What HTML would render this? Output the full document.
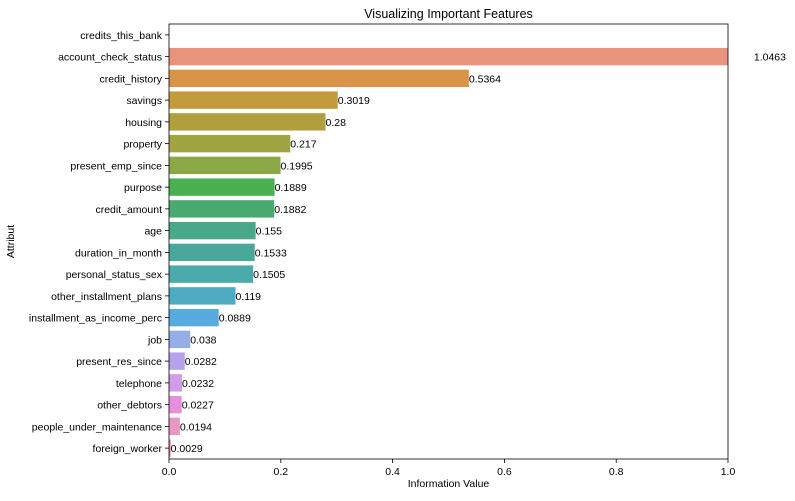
<!DOCTYPE html>
<html><head><meta charset="utf-8"><style>
body{margin:0;background:#fff;font-family:"Liberation Sans","DejaVu Sans",sans-serif;}
svg text{font-family:"Liberation Sans","DejaVu Sans",sans-serif;fill:#000;}
</style></head><body>
<svg id="c" width="795" height="496"></svg>
<script>
const categories=["credits_this_bank","account_check_status","credit_history","savings","housing","property","present_emp_since","purpose","credit_amount","age","duration_in_month","personal_status_sex","other_installment_plans","installment_as_income_perc","job","present_res_since","telephone","other_debtors","people_under_maintenance","foreign_worker"];
const values=[null,1.0463,0.5364,0.3019,0.28,0.217,0.1995,0.1889,0.1882,0.155,0.1533,0.1505,0.119,0.0889,0.038,0.0282,0.0232,0.0227,0.0194,0.0029];
const colors=["#f77189","#e8937c","#d8954a","#c49a3e","#b09f3f","#a1a442","#8aa846","#4aaf50","#49aa6f","#4aa88a","#4aa89a","#4baaac","#4eabc1","#57abde","#96aee8","#b5a2ea","#d09de6","#e58fde","#e896c4","#f1759a"];
const xTicks=[0,0.2,0.4,0.6,0.8,1.0];
const xTickLabels=["0.0","0.2","0.4","0.6","0.8","1.0"];
const NS="http://www.w3.org/2000/svg";
const svg=document.getElementById('c');
const L=169,R=728,T=24,B=459;
const xs=v=>L+(v/1.0)*(R-L);
const band=(B-T)/categories.length;
const ys=i=>T+band*i;
function mk(tag,attrs){const e=document.createElementNS(NS,tag);for(const k in attrs)e.setAttribute(k,attrs[k]);svg.appendChild(e);return e;}
const clip=mk('clipPath',{id:'pc'});svg.removeChild(clip);
const defs=mk('defs',{});defs.appendChild(clip);
const cr=document.createElementNS(NS,'rect');cr.setAttribute('x',L);cr.setAttribute('y',T);cr.setAttribute('width',R-L);cr.setAttribute('height',B-T);clip.appendChild(cr);
categories.forEach((c,i)=>{
  const yc=ys(i)+band/2;
  const v=values[i];
  if(v!==null){
    const r=mk('rect',{x:xs(0),y:ys(i)+band*0.1,width:Math.max(0,xs(v)-xs(0)),height:band*0.8,fill:colors[i],'clip-path':'url(#pc)'});
    
    
    const t=mk('text',{x:xs(v),y:yc+4,'font-size':10.5});
    t.textContent=String(v);
    
    
  }
  const tk=mk('line',{x1:L-4,x2:L,y1:yc,y2:yc,stroke:'#000','stroke-width':0.8});
  
  
  const lb=mk('text',{x:L-7,y:yc+4,'font-size':10.5,'text-anchor':'end'});
  lb.textContent=c;
  
  
});
xTicks.forEach((v,i)=>{
  const tk=mk('line',{x1:xs(v),x2:xs(v),y1:B,y2:B+4,stroke:'#000','stroke-width':0.8});
  
  
  const lb=mk('text',{x:xs(v),y:B+16,'font-size':10.5,'text-anchor':'middle'});
  lb.textContent=xTickLabels[i];
  
  
});
const fr=mk('rect',{x:L,y:T,width:R-L,height:B-T,fill:'none',stroke:'#000','stroke-width':0.8});


const ti=mk('text',{x:(L+R)/2,y:T-6,'font-size':12.5,'text-anchor':'middle'});
ti.textContent='Visualizing Important Features';


const xt=mk('text',{x:(L+R)/2,y:487,'font-size':10.5,'text-anchor':'middle'});
xt.textContent='Information Value';


const yt=mk('text',{x:14,y:(T+B)/2,'font-size':10.5,'text-anchor':'middle',transform:'rotate(-90 14 '+((T+B)/2)+')'});
yt.textContent='Attribut';


</script>
</body></html>
